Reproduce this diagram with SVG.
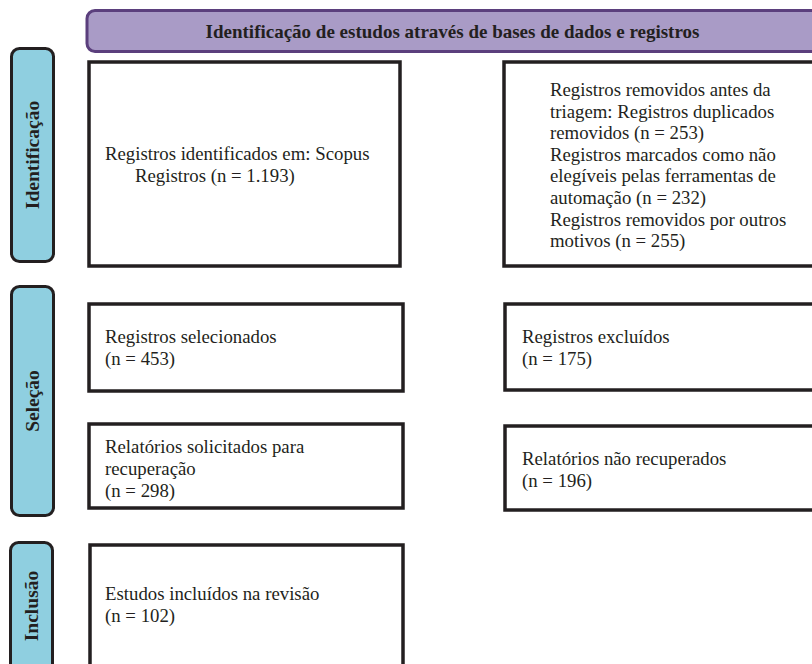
<svg xmlns="http://www.w3.org/2000/svg" width="812" height="664" viewBox="0 0 812 664">
<style>
.box{fill:#ffffff;stroke:#231f20;stroke-width:3.5}
.side{fill:#8fcfe0;stroke:#231f20;stroke-width:3}
.hdr{fill:#a99bc6;stroke:#5b3f7d;stroke-width:3}
.t{font-family:"Liberation Serif","Times New Roman",serif;font-size:18.8px;fill:#231f20}
.b{font-family:"Liberation Serif","Times New Roman",serif;font-size:19px;font-weight:bold;fill:#231f20}
.s{font-family:"Liberation Serif","Times New Roman",serif;font-size:19.5px;font-weight:bold;fill:#231f20}
</style>
<rect width="812" height="664" fill="#ffffff"/>
<g id="header">
<rect class="hdr" x="87" y="10.5" width="740" height="41" rx="8"/>
<text class="b" x="452.5" y="38" text-anchor="middle">Identificação de estudos através de bases de dados e registros</text>
</g>
<g id="phase-identificacao">
<rect class="side" x="11.5" y="48.5" width="42" height="213" rx="8"/>
<text class="s" transform="translate(39,155) rotate(-90)" text-anchor="middle">Identificação</text>
</g>
<g id="phase-selecao">
<rect class="side" x="11.5" y="286.5" width="42" height="229" rx="8"/>
<text class="s" transform="translate(39,401) rotate(-90)" text-anchor="middle">Seleção</text>
</g>
<g id="phase-inclusao">
<rect class="side" x="10.5" y="542.5" width="42" height="140" rx="8"/>
<text class="s" transform="translate(38,606) rotate(-90)" text-anchor="middle">Inclusão</text>
</g>
<g id="identificados">
<rect class="box" x="89" y="62" width="311" height="204"/>
<text class="t" x="105" y="160">Registros identificados em: Scopus</text>
<text class="t" x="135" y="182">Registros (n = 1.193)</text>
</g>
<g id="removidos">
<rect class="box" x="504" y="62" width="330" height="204"/>
<text class="t" x="550" y="96">Registros removidos antes da</text>
<text class="t" x="550" y="117.6">triagem: Registros duplicados</text>
<text class="t" x="550" y="139.2">removidos (n = 253)</text>
<text class="t" x="550" y="160.8">Registros marcados como não</text>
<text class="t" x="550" y="182.4">elegíveis pelas ferramentas de</text>
<text class="t" x="550" y="204">automação (n = 232)</text>
<text class="t" x="550" y="225.6">Registros removidos por outros</text>
<text class="t" x="550" y="247.2">motivos (n = 255)</text>
</g>
<g id="selecionados">
<rect class="box" x="89" y="304" width="314" height="87"/>
<text class="t" x="105" y="343">Registros selecionados</text>
<text class="t" x="105" y="365">(n = 453)</text>
</g>
<g id="excluidos">
<rect class="box" x="505" y="304" width="330" height="86"/>
<text class="t" x="522" y="343">Registros excluídos</text>
<text class="t" x="522" y="365">(n = 175)</text>
</g>
<g id="solicitados">
<rect class="box" x="89" y="424" width="314" height="84"/>
<text class="t" x="105" y="453">Relatórios solicitados para</text>
<text class="t" x="105" y="475">recuperação</text>
<text class="t" x="105" y="497">(n = 298)</text>
</g>
<g id="nao-recuperados">
<rect class="box" x="505" y="426" width="330" height="84"/>
<text class="t" x="522" y="465">Relatórios não recuperados</text>
<text class="t" x="522" y="487">(n = 196)</text>
</g>
<g id="incluidos">
<rect class="box" x="90" y="545" width="313" height="140"/>
<text class="t" x="105" y="600">Estudos incluídos na revisão</text>
<text class="t" x="105" y="622">(n = 102)</text>
</g>
<g id="connectors"></g>
</svg>
